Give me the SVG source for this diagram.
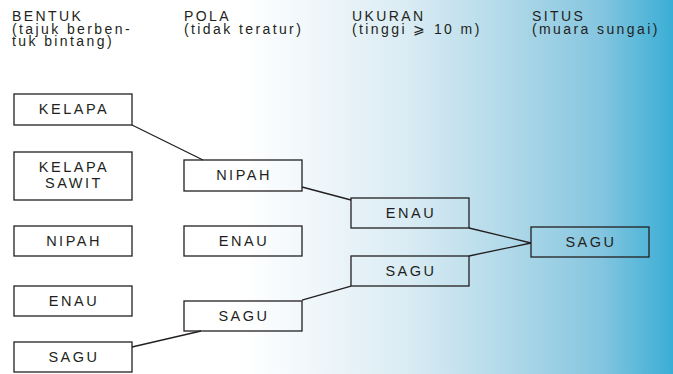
<svg xmlns="http://www.w3.org/2000/svg" width="673" height="374" viewBox="0 0 673 374">
<defs>
<linearGradient id="bg" x1="0" y1="0" x2="673" y2="0" gradientUnits="userSpaceOnUse">
<stop offset="0" stop-color="#ffffff"/>
<stop offset="0.36" stop-color="#ffffff"/>
<stop offset="0.45" stop-color="#f2f8fb"/>
<stop offset="0.6" stop-color="#dbecf4"/>
<stop offset="0.74" stop-color="#b5dbea"/>
<stop offset="0.89" stop-color="#86c6e0"/>
<stop offset="1" stop-color="#3aaed5"/>
</linearGradient>
<style>
.h{font-family:"Liberation Sans",Arial,sans-serif;font-size:14px;letter-spacing:2.4px;fill:#231f20}
.b rect{fill:none;stroke:#231f20;stroke-width:1.3}
.b text{font-family:"Liberation Sans",Arial,sans-serif;font-size:14.5px;letter-spacing:2.5px;fill:#231f20;text-anchor:middle}
#connectors line{stroke:#231f20;stroke-width:1.3}
</style>
</defs>
<rect x="0" y="0" width="673" height="374" fill="url(#bg)"/>
<g id="headers" class="h">
<text x="12" y="21">BENTUK</text>
<text x="12" y="33.5">(tajuk berben-</text>
<text x="12" y="46">tuk bintang)</text>
<text x="184" y="21">POLA</text>
<text x="184" y="33.5">(tidak teratur)</text>
<text x="352" y="21">UKURAN</text>
<text x="352" y="33.5">(tinggi ⩾ 10 m)</text>
<text x="532" y="21">SITUS</text>
<text x="532" y="33.5">(muara sungai)</text>
</g>
<g id="connectors">
<line x1="132" y1="125" x2="203" y2="160"/>
<line x1="302" y1="187" x2="351" y2="200"/>
<line x1="132" y1="347" x2="201" y2="331"/>
<line x1="302" y1="300" x2="351" y2="286"/>
<line x1="469" y1="228" x2="531" y2="243"/>
<line x1="469" y1="256" x2="531" y2="243"/>
</g>
<g id="n1" class="b"><rect x="14" y="94" width="118" height="31"/><text x="74" y="114">KELAPA</text></g>
<g id="n2" class="b"><rect x="14" y="152" width="118" height="48"/><text x="74" y="172">KELAPA</text><text x="74" y="188">SAWIT</text></g>
<g id="n3" class="b"><rect x="14" y="226" width="118" height="30"/><text x="74" y="246">NIPAH</text></g>
<g id="n4" class="b"><rect x="14" y="286" width="118" height="30"/><text x="74" y="306">ENAU</text></g>
<g id="n5" class="b"><rect x="14" y="342" width="118" height="30"/><text x="74" y="362">SAGU</text></g>
<g id="n6" class="b"><rect x="184" y="160" width="118" height="31"/><text x="244" y="180">NIPAH</text></g>
<g id="n7" class="b"><rect x="184" y="226" width="118" height="30"/><text x="244" y="246">ENAU</text></g>
<g id="n8" class="b"><rect x="184" y="301" width="118" height="30"/><text x="244" y="321">SAGU</text></g>
<g id="n9" class="b"><rect x="351" y="198" width="118" height="30"/><text x="411" y="218">ENAU</text></g>
<g id="n10" class="b"><rect x="351" y="256" width="118" height="30"/><text x="411" y="276">SAGU</text></g>
<g id="n11" class="b"><rect x="531" y="227" width="118" height="30"/><text x="591" y="247">SAGU</text></g>
</svg>
